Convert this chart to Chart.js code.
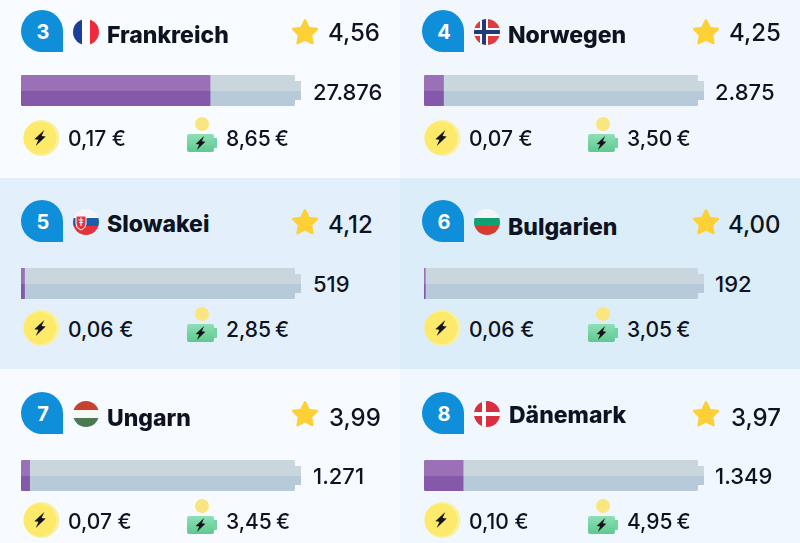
<!DOCTYPE html>
<html lang="de">
<head>
<meta charset="utf-8">
<title>Ladestationen</title>
<script src="https://cdn.jsdelivr.net/npm/chart.js@4"></script>
<style>
  html, body { margin: 0; padding: 0; background: #f6faff; }
  #board { position: relative; width: 800px; height: 543px; overflow: hidden; font-family: Inter, "Open Sans", sans-serif; color: #0d1320; filter: blur(0.35px); }
  .panel { position: absolute; }
  .abs { position: absolute; white-space: nowrap; }
  .badge { width: 42px; height: 42px; background: #0f8fd9; border-radius: 21px 21px 0 21px; color: #fff; font-weight: 700; font-size: 20px; line-height: 45px; text-align: center; text-indent: 2px; }
  .name { font-weight: 800; font-size: 23px; line-height: 28px; }
  .rating { font-weight: 500; font-size: 24px; line-height: 28px; }
  .count { font-weight: 500; font-size: 22px; line-height: 28px; }
  .price { font-weight: 500; font-size: 21px; line-height: 24px; }
  .charge { word-spacing: -1.5px; }
  svg.abs { overflow: visible; }
  canvas.abs { display: block; }
</style>
</head>
<body>
<div id="board"></div>
<script>
// Values as printed in the reference
const ranks = ['3', '4', '5', '6', '7', '8'];
const countries = ['Frankreich', 'Norwegen', 'Slowakei', 'Bulgarien', 'Ungarn', 'Dänemark'];
const flagCodes = ['fr', 'no', 'sk', 'bg', 'hu', 'dk'];
const ratings = ['4,56', '4,25', '4,12', '4,00', '3,99', '3,97'];
const stationLabels = ['27.876', '2.875', '519', '192', '1.271', '1.349'];
const kwhPrices = ['0,17 €', '0,07 €', '0,06 €', '0,06 €', '0,07 €', '0,10 €'];
const chargePrices = ['8,65 €', '3,50 €', '2,85 €', '3,05 €', '3,45 €', '4,95 €'];

// Bar lengths as drawn. Denmark's fill is visibly longer than its 1.349 label in the picture.
const barValues = [27876, 2875, 519, 192, 1271, 5770];
const trackMax = 40400;

// Layout of the six panels
const columnX = [0, 401, 0, 401, 0, 401];
const rowY = [0, 0, 190, 190, 382, 382];
const barShiftX = [0, 2, 0, 2, 0, 2];
const barShiftY = [0, 0, 3, 3, 3, 3];
const countShiftX = [0, 1, 0, 1, 0, 1];
const nameShiftY = [2, 2, 1, 4, 3, 0];
const nameShiftX = [0, 0, 0, 0, 0, 1];
const ratingShiftY = [1, 1, 3, 3, 4, 4];
const ratingShiftX = [0, 0, 0, -1, 1, 2];
const countShiftY = [1, 1, 0, 0, 0, 0];
const priceShiftY = [1, 1, 2, 2, 2, 2];
const panelRects = [
  [0, 0, 400, 178, '#f8fbff'], [400, 0, 400, 178, '#f2f7fe'],
  [0, 178, 400, 191, '#e3f0fb'], [400, 178, 400, 191, '#dcedfa'],
  [0, 369, 400, 174, '#f7fbff'], [400, 369, 400, 174, '#f1f7fe']
];

const boltPath = 'M3.4 -8.5 L-5.5 1.8 L-1.4 1.8 L-3.4 8.5 L5.5 -2.2 L1.4 -2.2 Z';
const flagArt = {
  fr: '<rect x="-13" y="-13" width="9" height="26" fill="#1d3f9b"/><rect x="-4" y="-13" width="8" height="26" fill="#fff"/><rect x="4" y="-13" width="9" height="26" fill="#ee2b3c"/>',
  no: '<rect x="-13" y="-13" width="26" height="26" fill="#df3a41"/><rect x="-7" y="-13" width="8" height="26" fill="#fff"/><rect x="-13" y="-4" width="26" height="8" fill="#fff"/><rect x="-5" y="-13" width="4" height="26" fill="#1f3a7a"/><rect x="-13" y="-2" width="26" height="4" fill="#1f3a7a"/>',
  sk: '<rect x="-13" y="-13" width="26" height="9" fill="#f4f6f8"/><rect x="-13" y="-4" width="26" height="8" fill="#1c5cab"/><rect x="-13" y="4" width="26" height="9" fill="#e2333c"/><path d="M-10 -6 H0 V2 Q0 6 -5 8 Q-10 6 -10 2 Z" fill="#e2333c" stroke="#fff" stroke-width="1"/><path d="M-5 -4.5 V4 M-7.5 -2 H-2.5 M-7 0.5 H-3" stroke="#fff" stroke-width="1.1"/>',
  bg: '<rect x="-13" y="-13" width="26" height="9" fill="#f4f6f6"/><rect x="-13" y="-4" width="26" height="8" fill="#10a074"/><rect x="-13" y="4" width="26" height="9" fill="#d93a2e"/>',
  hu: '<rect x="-13" y="-13" width="26" height="9" fill="#c8412f"/><rect x="-13" y="-4" width="26" height="8" fill="#f7f7f5"/><rect x="-13" y="4" width="26" height="9" fill="#4b7a52"/>',
  dk: '<rect x="-13" y="-13" width="26" height="26" fill="#d9303f"/><rect x="-5" y="-13" width="4" height="26" fill="#fff"/><rect x="-13" y="-2" width="26" height="4" fill="#fff"/>'
};

const board = document.getElementById('board');

function addHtml(html) {
  board.insertAdjacentHTML('beforeend', html);
}

function text(cls, label, x, y) {
  addHtml(`<div class="abs ${cls}" style="left:${x}px;top:${y}px">${label}</div>`);
}

function icon(x, y, w, h, vb, inner) {
  addHtml(`<svg class="abs" style="left:${x}px;top:${y}px" width="${w}" height="${h}" viewBox="${vb}">${inner}</svg>`);
}

function twoTone(chart, top, bottom) {
  const area = chart.chartArea;
  if (!area) return bottom;
  const g = chart.ctx.createLinearGradient(0, area.top, 0, area.bottom);
  g.addColorStop(0, top);
  g.addColorStop(0.52, top);
  g.addColorStop(0.52, bottom);
  g.addColorStop(1, bottom);
  return g;
}

// Little contact on the end of the battery shaped track
const batteryCap = {
  id: 'batteryCap',
  beforeDatasetsDraw(chart) {
    const { ctx, chartArea, scales } = chart;
    const x = scales.x.getPixelForValue(trackMax);
    const y = chartArea.top + 6;
    const h = chartArea.bottom - chartArea.top - 12;
    ctx.save();
    ctx.fillStyle = '#c9d6de';
    ctx.fillRect(x, y, 6, h / 2);
    ctx.fillStyle = '#b7cad9';
    ctx.fillRect(x, y + h / 2, 6, h / 2);
    ctx.restore();
  }
};

function drawBar(i, x, y) {
  const canvas = document.createElement('canvas');
  canvas.className = 'abs';
  canvas.style.left = x + 'px';
  canvas.style.top = y + 'px';
  canvas.width = 282;
  canvas.height = 31;
  board.appendChild(canvas);

  new Chart(canvas.getContext('2d'), {
    type: 'bar',
    data: {
      labels: [countries[i]],
      datasets: [
        {
          data: [barValues[i]],
          order: 1,
          backgroundColor: (c) => twoTone(c.chart, '#9a70b6', '#8558a9'),
          borderRadius: { topLeft: 3, bottomLeft: 3, topRight: 0, bottomRight: 0 },
          borderSkipped: false
        },
        {
          data: [trackMax],
          order: 2,
          backgroundColor: (c) => twoTone(c.chart, '#c9d6de', '#b7cad9'),
          borderRadius: 3,
          borderSkipped: false
        }
      ]
    },
    options: {
      indexAxis: 'y',
      responsive: false,
      animation: false,
      grouped: false,
      barPercentage: 1,
      categoryPercentage: 1,
      layout: { padding: { right: 8 } },
      plugins: { legend: { display: false }, tooltip: { enabled: false } },
      scales: {
        x: { display: false, min: 0, max: trackMax },
        y: { display: false }
      }
    },
    plugins: [batteryCap]
  });
}

panelRects.forEach(([x, y, w, h, fill]) => {
  addHtml(`<div class="panel" style="left:${x}px;top:${y}px;width:${w}px;height:${h}px;background:${fill}"></div>`);
});

ranks.forEach((rank, i) => {
  const ox = columnX[i];
  const oy = rowY[i];

  addHtml(`<div class="abs badge" style="left:${21 + ox}px;top:${10 + oy}px">${rank}</div>`);

  icon(73 + ox, 19 + oy, 26, 26, '-13 -13 26 26',
    `<clipPath id="flag${i}"><circle r="13"/></clipPath><g clip-path="url(#flag${i})">${flagArt[flagCodes[i]]}</g>`);
  text('name', countries[i], 107 + ox + nameShiftX[i], 19 + oy + nameShiftY[i]);

  icon(291 + ox, 18 + oy, 28, 28, '0 0 24 24',
    '<path d="M12 2 L15.2 8.4 L22.3 9.4 L17.2 14.5 L18.4 21.6 L12 18.3 L5.6 21.6 L6.8 14.5 L1.7 9.4 L8.8 8.4 Z" fill="#fdd035" stroke="#fdd035" stroke-width="2" stroke-linejoin="round"/>');
  text('rating', ratings[i], 328 + ox + ratingShiftX[i], 18 + oy + ratingShiftY[i]);

  drawBar(i, 21 + ox + barShiftX[i], 75 + oy + barShiftY[i]);
  text('count', stationLabels[i], 313 + ox + countShiftX[i], 77 + oy + barShiftY[i] + countShiftY[i]);

  // price per kWh coin
  icon(22 + ox, 120 + oy, 38, 36, '-18 -18 38 36',
    `<circle cx="1.5" cy="0" r="18" fill="#f9f0a6"/><circle cx="0" cy="0" r="16.5" fill="#fde96a"/><path d="${boltPath}" transform="rotate(6)" fill="#14141a"/>`);
  text('price', kwhPrices[i], 68 + ox, 126 + oy + priceShiftY[i]);

  // full charge battery with small coin
  icon(187 + ox, 117 + oy, 32, 36, '0 0 32 36',
    `<circle cx="15" cy="7" r="7" fill="#fbe57e"/>
     <defs><linearGradient id="batt${i}" x1="0" y1="0" x2="0" y2="1"><stop offset="0" stop-color="#8fdfb7"/><stop offset="1" stop-color="#5ec98f"/></linearGradient></defs>
     <rect x="0" y="17" width="27" height="18" rx="2" fill="url(#batt${i})"/><rect x="27" y="21" width="3" height="10" fill="#74d3a2"/>
     <path d="${boltPath}" transform="translate(13.5 26) rotate(6) scale(0.85)" fill="#14141a"/>`);
  text('price charge', chargePrices[i], 226 + ox, 126 + oy + priceShiftY[i]);
});
</script>
</body>
</html>
